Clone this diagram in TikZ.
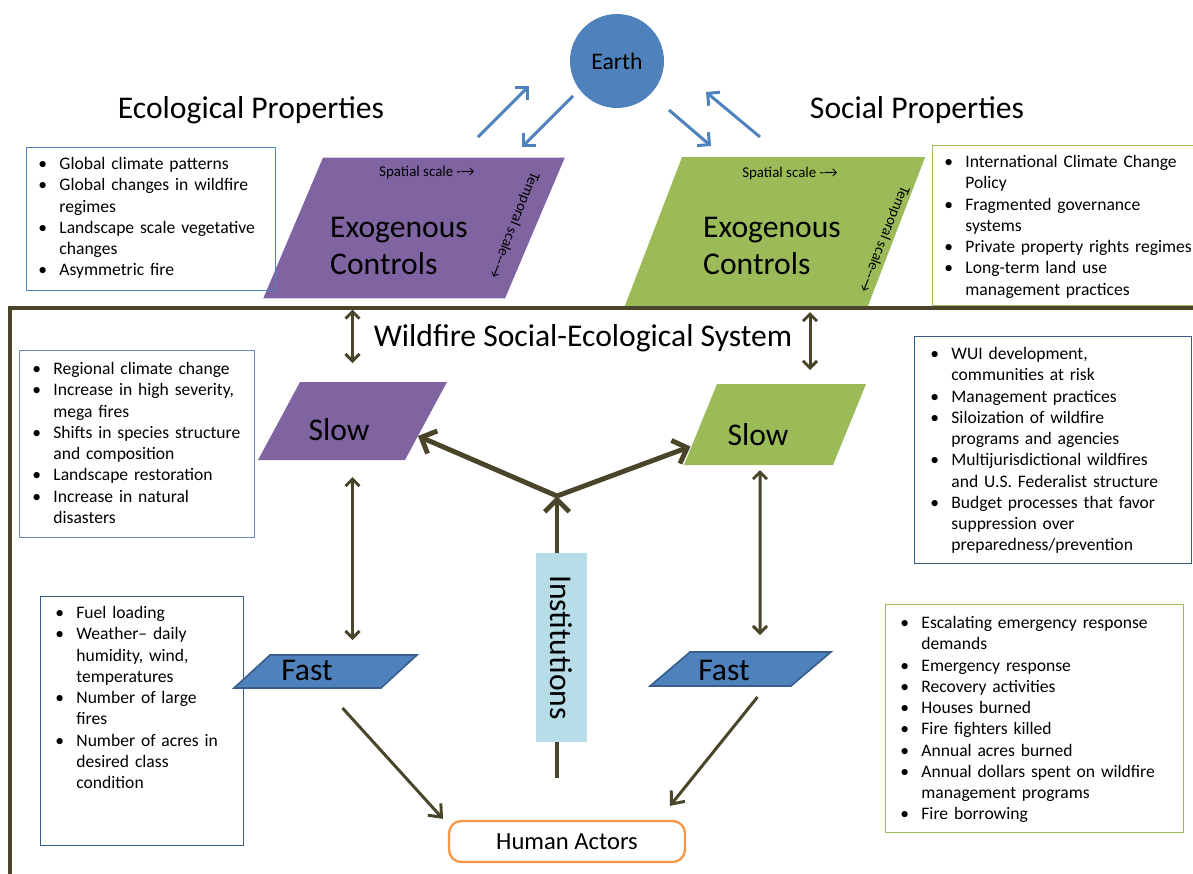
\documentclass[tikz,border=0pt]{standalone}
\usepackage{fontspec}
\setmainfont{Carlito}
\usetikzlibrary{arrows.meta, positioning, shapes.geometric}

\definecolor{EarthBlue}{RGB}{79,129,189}
\definecolor{ExoPurple}{RGB}{128,100,162}
\definecolor{ExoGreen}{RGB}{155,187,89}
\definecolor{FastEdge}{RGB}{56,93,138}
\definecolor{FrameOlive}{RGB}{74,69,42}
\definecolor{ActorOrange}{RGB}{247,150,70}
\definecolor{InstBlue}{RGB}{183,222,232}
\definecolor{BoxBlue}{RGB}{100,140,195}

\newlength{\bind}
\setlength{\bind}{12pt}
\newcommand{\bitem}[1]{\par\noindent\hangindent=\bind\hangafter=1\makebox[\bind][l]{\textbullet}#1\par}

\begin{document}
\begin{tikzpicture}[x=0.02cm, y=-0.02cm,
    every node/.style={font=\fontsize{10}{12.1}\selectfont},
    para/.style={trapezium, inner sep=0pt, outer sep=0pt},
    bigtext/.style={font=\fontsize{18}{21}\selectfont},
    smalltext/.style={font=\fontsize{8.5}{10}\selectfont},
    listbox/.style={draw, line width=0.6pt, anchor=north west, inner sep=0pt},
    items/.style={anchor=north west, inner sep=0pt, align=left},
    earthlink/.style={>={Straight Barb[length=5pt,width=10pt]}, ->, EarthBlue, line width=1.7pt},
    twoway/.style={>={Straight Barb[length=4pt,width=8pt]}, <->, FrameOlive, line width=1.7pt},
    hublink/.style={>={Straight Barb[length=7pt,width=14pt]}, ->, FrameOlive, line width=2.8pt},
    actorlink/.style={>={Straight Barb[length=6pt,width=10pt]}, ->, FrameOlive, line width=1.7pt}]
    \useasboundingbox (0,0) rectangle (1193,873);

    % earth and the two property sides
    \node[circle, fill=EarthBlue, minimum size=1.88cm, inner sep=0pt, font=\fontsize{13.5}{16}\selectfont] (earth) at (617,61) {Earth};
    \node[bigtext] (ecotitle) at (251,110) {Ecological Properties};
    \node[bigtext] (soctitle) at (917,110) {Social Properties};

    \node[para, fill=ExoPurple, trapezium left angle=67, trapezium right angle=113, inner xsep=1.82cm, inner ysep=1.41cm] (ecoexo) at (414,228) {};
    \node[para, fill=ExoGreen, trapezium left angle=69, trapezium right angle=111, inner xsep=1.86cm, inner ysep=1.49cm] (socexo) at (775,231.5) {};
    \node[bigtext, align=left] (ecoexotxt) at (399,246) {Exogenous\\Controls};
    \node[bigtext, align=left] (socexotxt) at (772,246) {Exogenous\\Controls};
    \node[smalltext] (ecospatial) at (427,173) {Spatial scale -→};
    \node[smalltext] (socspatial) at (790,174) {Spatial scale -→};
    \node[smalltext, rotate=-112] (ecotemporal) at (514,225) {Temporal scale-{}-→};
    \node[smalltext, rotate=-112] (soctemporal) at (884,239) {Temporal scale-{}-→};

    \coordinate (ecoup0) at (478,137);
    \coordinate (ecoup1) at (529,86);
    \coordinate (ecodn0) at (573,96);
    \coordinate (ecodn1) at (522,147);
    \coordinate (socdn0) at (669,110);
    \coordinate (socdn1) at (711,146);
    \coordinate (socup0) at (760,137);
    \coordinate (socup1) at (706,92);
    \draw[earthlink] (ecoup0) -- (ecoup1);
    \draw[earthlink] (ecodn0) -- (ecodn1);
    \draw[earthlink] (socdn0) -- (socdn1);
    \draw[earthlink] (socup0) -- (socup1);

    % system frame
    \draw[FrameOlive, line width=2pt] (10,880) -- (10,308) -- (1200,308);
    \node[bigtext] (systitle) at (583,338) {Wildfire Social-Ecological System};

    % list boxes
    \node[listbox, draw=EarthBlue, minimum width=4.98cm, minimum height=2.86cm] (ecoglobal) at (26,147) {};
    \node[items, text width=4.7cm] (ecoglobaltxt) at (38,148) {%
        \bitem{Global climate patterns}
        \bitem{Global changes in wildfire\newline regimes}
        \bitem{Landscape scale vegetative\newline changes}
        \bitem{Asymmetric fire}};
    \node[listbox, draw=ExoGreen, minimum width=5.28cm, minimum height=3.2cm] (socglobal) at (932,145) {};
    \node[items, text width=5.2cm] (socglobaltxt) at (944,146) {%
        \bitem{International Climate Change\newline Policy}
        \bitem{Fragmented governance\newline systems}
        \bitem{Private property rights regimes}
        \bitem{Long-term land use\newline management practices}};
    \node[listbox, draw=BoxBlue, minimum width=4.7cm, minimum height=3.74cm] (ecoregional) at (19,350) {};
    \node[items, text width=4.4cm] (ecoregionaltxt) at (32,353) {%
        \bitem{Regional climate change}
        \bitem{Increase in high severity,\newline mega fires}
        \bitem{Shifts in species structure\newline and composition}
        \bitem{Landscape restoration}
        \bitem{Increase in natural\newline disasters}};
    \node[listbox, draw=FastEdge, minimum width=5.54cm, minimum height=4.54cm] (socregional) at (914,336) {};
    \node[items, text width=5.2cm] (socregionaltxt) at (930,338) {%
        \bitem{WUI development,\newline communities at risk}
        \bitem{Management practices}
        \bitem{Siloization of wildfire\newline programs and agencies}
        \bitem{Multijurisdictional wildfires\newline and U.S. Federalist structure}
        \bitem{Budget processes that favor\newline suppression over\newline preparedness/prevention}};
    \node[listbox, draw=FastEdge, minimum width=4.06cm, minimum height=4.98cm] (ecolocal) at (40,596) {};
    \node[items, text width=3.8cm] (ecolocaltxt) at (55,597) {%
        \bitem{Fuel loading}
        \bitem{Weather– daily\newline humidity, wind,\newline temperatures}
        \bitem{Number of large\newline fires}
        \bitem{Number of acres in\newline desired class\newline condition}};
    \node[listbox, draw=ExoGreen, minimum width=5.96cm, minimum height=4.56cm] (soclocal) at (885,604) {};
    \node[items, text width=5.7cm] (soclocaltxt) at (900,607) {%
        \bitem{Escalating emergency response\newline demands}
        \bitem{Emergency response}
        \bitem{Recovery activities}
        \bitem{Houses burned}
        \bitem{Fire fighters killed}
        \bitem{Annual acres burned}
        \bitem{Annual dollars spent on wildfire\newline management programs}
        \bitem{Fire borrowing}};

    % slow and fast variables
    \node[para, fill=ExoPurple, trapezium left angle=61.7, trapezium right angle=118.3, inner xsep=1.05cm, inner ysep=0.78cm] (ecoslow) at (352.5,421) {};
    \node[para, fill=ExoGreen, trapezium left angle=67.8, trapezium right angle=112.2, inner xsep=1.16cm, inner ysep=0.81cm] (socslow) at (775,424.5) {};
    \node[bigtext] (ecoslowtxt) at (339,430) {Slow};
    \node[bigtext] (socslowtxt) at (758,435) {Slow};
    \node[para, fill=EarthBlue, draw=FastEdge, line width=0.9pt, trapezium left angle=42.5, trapezium right angle=137.5, inner xsep=1.11cm, inner ysep=0.33cm] (ecofast) at (325.5,671.5) {};
    \node[para, fill=EarthBlue, draw=FastEdge, line width=0.9pt, trapezium left angle=40.4, trapezium right angle=139.6, inner xsep=1.01cm, inner ysep=0.34cm] (socfast) at (740.5,669) {};
    \node[bigtext] (ecofasttxt) at (307,670) {Fast};
    \node[bigtext] (socfasttxt) at (724,670) {Fast};

    \draw[twoway] ([shift={(0,11)}]ecoexo.south -| ecoslow.north) -- ([shift={(0,-19)}]ecoslow.north);
    \draw[twoway] ([shift={(35,6)}]socexo.south) -- ([shift={(35,-14)}]socslow.north);
    \draw[twoway] ([shift={(0,17)}]ecoslow.south) -- ([shift={(0,-15)}]ecofast.north -| ecoslow.south);
    \draw[twoway] ([shift={(-15,5)}]socslow.south) -- ([shift={(19.5,-17)}]socfast.north);

    % institutions
    \coordinate (hub) at (557,496);
    \coordinate (instfoot) at (557,778);
    \draw[hublink] (instfoot) -- (hub);
    \draw[hublink] (hub) -- ([shift={(-8,15)}]ecoslow.east);
    \draw[hublink] (hub) -- ([shift={(-10,22)}]socslow.west);
    \node[bigtext, fill=InstBlue, rotate=-90, minimum width=3.78cm, minimum height=1.02cm, inner sep=0pt] (inst) at (561.5,647.5) {Institutions};

    % human actors
    \node[draw=ActorOrange, line width=1.3pt, rounded corners=7pt, fill=white, minimum width=4.72cm, minimum height=0.82cm, font=\fontsize{14}{16}\selectfont] (actors) at (567,841.5) {Human Actors};
    \draw[actorlink] ([shift={(17,20)}]ecofast.south) -- ([shift={(-124,-1)}]actors.north);
    \draw[actorlink] ([shift={(17,11)}]socfast.south) -- ([shift={(103,-14)}]actors.north);
\end{tikzpicture}
\end{document}
